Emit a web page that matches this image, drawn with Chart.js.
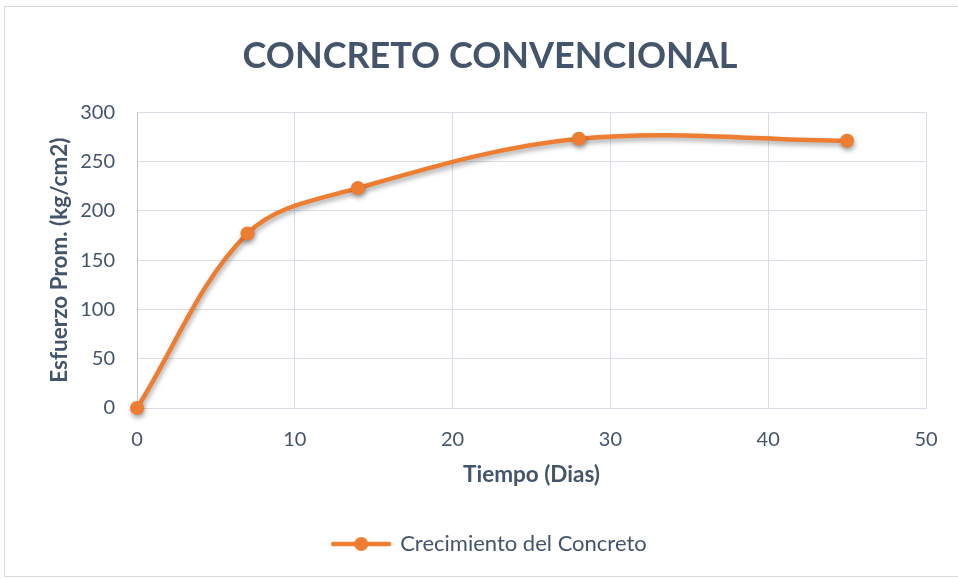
<!DOCTYPE html>
<html>
<head>
<meta charset="utf-8">
<script src="https://cdn.jsdelivr.net/npm/chart.js@4/dist/chart.umd.min.js"></script>
<style>
  html, body { margin: 0; padding: 0; background: #ffffff; overflow: hidden; }
  #wrap { position: relative; width: 958px; height: 579px; overflow: hidden; }
  #frame { position: absolute; left: 4px; top: 6px; width: 972px; height: 571px; border: 1px solid #D9D9D9; box-sizing: border-box; }
  canvas { position: absolute; left: 0; top: 0; }
</style>
</head>
<body>
<div id="wrap">
  <div id="frame"></div>
  <canvas id="chart" width="980" height="579"></canvas>
</div>
<script>
// Compressive strength growth of conventional concrete over curing time
const chartTitle = 'CONCRETO CONVENCIONAL';
const seriesName = 'Crecimiento del Concreto';
const xAxisTitle = 'Tiempo (Dias)';
const yAxisTitle = 'Esfuerzo Prom. (kg/cm2)';
const days = [0, 7, 14, 28, 45];
const strength = [0, 177, 223, 273, 271];
const xTicks = [0, 10, 20, 30, 40, 50];
const yTicks = [0, 50, 100, 150, 200, 250, 300];

const ORANGE = '#ED7D31';
const TEXT = '#44546A';
const GRID = '#D9DEE6';
const FONT = 'Lato, "Open Sans", sans-serif';

// legend swatch: a short line with a dot in the middle
const swatch = document.createElement('canvas');
swatch.width = 62; swatch.height = 16;
(function () {
  const c = swatch.getContext('2d');
  c.strokeStyle = ORANGE; c.lineWidth = 4.5; c.lineCap = 'round';
  c.beginPath(); c.moveTo(3, 8); c.lineTo(59, 8); c.stroke();
  c.fillStyle = ORANGE; c.beginPath(); c.arc(31, 8, 7, 0, Math.PI * 2); c.fill();
})();

const points = days.map((d, i) => ({ x: d, y: strength[i] }));

// soft drop shadow under the series
const shadowPlugin = {
  id: 'seriesShadow',
  beforeDatasetsDraw(chart) {
    const ctx = chart.ctx;
    ctx.save();
    ctx.shadowColor = 'rgba(0,0,0,0.35)';
    ctx.shadowBlur = 5;
    ctx.shadowOffsetX = 1;
    ctx.shadowOffsetY = 3;
  },
  afterDatasetsDraw(chart) {
    chart.ctx.restore();
  }
};

new Chart(document.getElementById('chart'), {
  type: 'line',
  data: {
    datasets: [{
      label: seriesName,
      data: points,
      borderColor: ORANGE,
      backgroundColor: ORANGE,
      borderWidth: 4.5,
      pointRadius: 7,
      pointHoverRadius: 7,
      pointBorderWidth: 0,
      tension: 0.35,
      clip: false,
      fill: false
    }]
  },
  options: {
    responsive: false,
    animation: false,
    devicePixelRatio: 1,
    layout: { padding: { left: 0, right: 0, top: 0, bottom: 14 } },
    plugins: {
      title: {
        display: true,
        text: chartTitle,
        color: TEXT,
        font: { family: FONT, size: 36, weight: 'bold' },
        padding: { top: 35, bottom: 34 }
      },
      legend: {
        position: 'bottom',
        labels: {
          usePointStyle: true,
          pointStyle: swatch,
          pointStyleWidth: 56,
          color: TEXT,
          font: { family: FONT, size: 22 },
          padding: 10
        }
      },
      tooltip: { enabled: false }
    },
    scales: {
      x: {
        type: 'linear',
        min: 0, max: 50,
        afterBuildTicks(scale) { scale.ticks = xTicks.map(v => ({ value: v })); },
        afterFit(scale) { scale.height = 115; },
        ticks: { color: TEXT, font: { family: FONT, size: 20 }, padding: 20, maxRotation: 0 },
        grid: { color: GRID, drawTicks: false, lineWidth: 1 },
        border: { color: GRID },
        title: {
          display: true, text: xAxisTitle, color: TEXT,
          font: { family: FONT, size: 22.5, weight: 'bold' },
          padding: { top: 0, bottom: 35 }
        }
      },
      y: {
        min: 0, max: 300,
        afterBuildTicks(scale) { scale.ticks = yTicks.map(v => ({ value: v })); },
        afterFit(scale) { scale.width = 137; },
        ticks: { color: TEXT, font: { family: FONT, size: 20 }, padding: 22 },
        grid: { color: GRID, drawTicks: false, lineWidth: 1 },
        border: { color: '#BFC8D5' },
        title: {
          display: true, text: yAxisTitle, color: TEXT,
          font: { family: FONT, size: 22.5, weight: 'bold' },
          padding: { top: 46, bottom: 0 }
        }
      },
      // empty right-hand band that reserves the margin beside the plot
      yRight: {
        position: 'right',
        min: 0, max: 300,
        afterFit(scale) { scale.width = 54; },
        ticks: { display: false },
        grid: { drawOnChartArea: false, drawTicks: false },
        border: { display: false }
      }
    }
  },
  plugins: [shadowPlugin]
});
</script>
</body>
</html>
